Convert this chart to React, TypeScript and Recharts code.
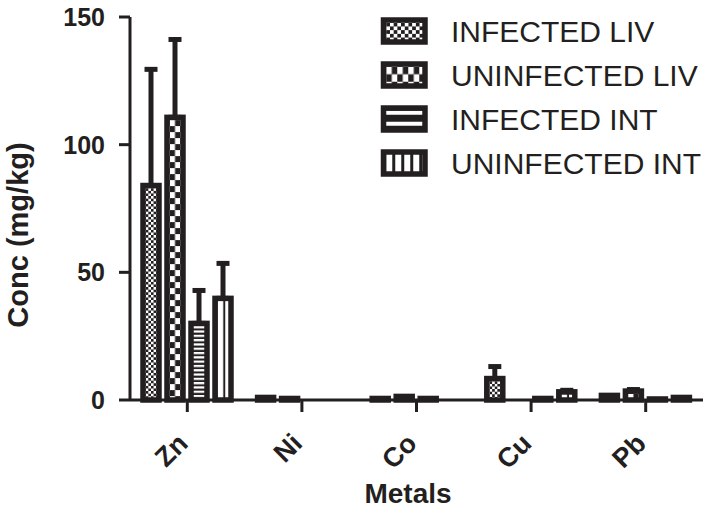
import React from 'react';
import { BarChart, Bar, XAxis, YAxis, ErrorBar, Legend, Label } from 'recharts';

// metal concentrations (mg/kg), mean and SEM per group
const METALS = ['Zn', 'Ni', 'Co', 'Cu', 'Pb'];
const SERIES = ['INFECTED LIV', 'UNINFECTED LIV', 'INFECTED INT', 'UNINFECTED INT'];
const INFECTED_LIV = [84.0, 1.0, 0.6, 8.4, 1.8];
const INFECTED_LIV_ERR = [45.5, 0, 0, 4.7, 0];
const UNINFECTED_LIV = [110.7, 0.6, 1.4, 0, 3.5];
const UNINFECTED_LIV_ERR = [30.5, 0, 0, 0, 0.6];
const INFECTED_INT = [30.0, 0, 0.6, 0.6, 0.4];
const INFECTED_INT_ERR = [12.9, 0, 0, 0, 0];
const UNINFECTED_INT = [39.8, 0, 0, 3.2, 1.0];
const UNINFECTED_INT_ERR = [13.7, 0, 0, 0.6, 0];
const Y_TICKS = [0, 50, 100, 150];

const INK = '#231f20';
const FONT = '"Liberation Sans", Arial, Helvetica, sans-serif';
const SW = 5.5;

type Kind = 'fine' | 'coarse' | 'hlines' | 'vlines';
const KINDS: Kind[] = ['fine', 'coarse', 'hlines', 'vlines'];

const means = [INFECTED_LIV, UNINFECTED_LIV, INFECTED_INT, UNINFECTED_INT];
const errs = [INFECTED_LIV_ERR, UNINFECTED_LIV_ERR, INFECTED_INT_ERR, UNINFECTED_INT_ERR];

const data = METALS.map((metal, i) => {
  const row: any = { metal };
  means.forEach((m, s) => {
    row[`v${s}`] = m[i];
    row[`e${s}`] = errs[s][i] > 0 ? [0, errs[s][i]] : null;
  });
  return row;
});

// fill patterns, a bit larger in the legend than in the bars
const PatternDef = ({ id, kind, x, y, big }: { id: string; kind: Kind; x: number; y: number; big?: boolean }) => {
  if (kind === 'fine') {
    const s = big ? 3.7 : 2.6;
    return (
      <pattern id={id} x={x} y={y} width={2 * s} height={2 * s} patternUnits="userSpaceOnUse">
        <rect width={2 * s} height={2 * s} fill="#fff" />
        <rect width={s} height={s} fill={INK} />
        <rect x={s} y={s} width={s} height={s} fill={INK} />
      </pattern>
    );
  }
  if (kind === 'coarse') {
    const w = big ? 5.5 : 5.25;
    const h = big ? 7.5 : 6;
    return (
      <pattern id={id} x={x} y={y} width={2 * w} height={2 * h} patternUnits="userSpaceOnUse">
        <rect width={2 * w} height={2 * h} fill={INK} />
        <rect width={w} height={h} fill="#fff" />
        <rect x={w} y={h} width={w} height={h} fill="#fff" />
      </pattern>
    );
  }
  if (kind === 'hlines') {
    const p = big ? 11 : 4.3;
    const white = big ? 4 : 2.2;
    return (
      <pattern id={id} x={x} y={y} width={10} height={p} patternUnits="userSpaceOnUse">
        <rect width={10} height={p} fill={INK} />
        <rect width={10} height={white} fill="#fff" />
      </pattern>
    );
  }
  const p = big ? 9 : 7.5;
  const white = big ? 6 : 5.5;
  return (
    <pattern id={id} x={x} y={y} width={p} height={10} patternUnits="userSpaceOnUse">
      <rect width={p} height={10} fill={INK} />
      <rect width={white} height={10} fill="#fff" />
    </pattern>
  );
};

const makeShape = (kind: Kind) => (props: any) => {
  const { x, y, width, height, index } = props;
  if (!height || height <= 0) return <g />;
  const id = `bar-${kind}-${index}`;
  return (
    <g>
      <defs>
        <PatternDef id={id} kind={kind} x={x + SW / 2} y={y + SW / 2} />
      </defs>
      <rect x={x} y={y} width={width} height={height} fill={`url(#${id})`} stroke={INK} strokeWidth={SW} />
    </g>
  );
};

const XTick = (props: any) => {
  const { x, y, payload } = props;
  const ax = x + 2;
  const ay = y + 31;
  return (
    <text x={ax} y={ay} transform={`rotate(-45, ${ax}, ${ay})`} textAnchor="end"
      fontSize={27} fontWeight="bold" fill={INK} fontFamily={FONT}>
      {payload.value}
    </text>
  );
};

const renderLegend = () => (
  <svg width={330} height={180}>
    {SERIES.map((name, i) => {
      const cy = 17 + i * 44;
      const rx = 5.5;
      const ry = cy - 11;
      const id = `leg-${KINDS[i]}`;
      return (
        <g key={name}>
          <defs>
            <PatternDef id={id} kind={KINDS[i]} x={rx + SW / 2} y={ry + SW / 2} big />
          </defs>
          <rect x={rx} y={ry} width={41.5} height={22} fill={`url(#${id})`} stroke={INK} strokeWidth={SW} />
          <text x={73} y={cy + 10.7} fontSize={30} fill={INK} fontFamily={FONT}>{name}</text>
        </g>
      );
    })}
  </svg>
);

export default function App() {
  return (
    <div style={{ position: 'absolute', left: 0, top: 0, background: '#fff' }}>
      <BarChart width={712} height={512} data={data} barSize={16} barGap={8}
        margin={{ top: 17, right: 9, bottom: 0, left: 0 }}>
        <XAxis dataKey="metal" height={112} tick={<XTick />} tickSize={12}
          axisLine={{ stroke: INK, strokeWidth: 3 }} tickLine={{ stroke: INK, strokeWidth: 3 }}>
          <Label content={() => (
            <text x={408} y={503} textAnchor="middle" fontSize={28} fontWeight="bold" fill={INK} fontFamily={FONT}>
              Metals
            </text>
          )} />
        </XAxis>
        <YAxis width={130} domain={[0, 150]} ticks={Y_TICKS} interval={0} tickSize={11} tickMargin={14}
          tick={{ fontSize: 25, fontWeight: 'bold', fill: INK, fontFamily: FONT }}
          axisLine={{ stroke: INK, strokeWidth: 3 }} tickLine={{ stroke: INK, strokeWidth: 3 }}>
          <Label content={() => (
            <text x={28} y={235} transform="rotate(-90, 28, 235)" textAnchor="middle" fontSize={29}
              fontWeight="bold" fill={INK} fontFamily={FONT}>
              Conc (mg/kg)
            </text>
          )} />
        </YAxis>
        <Legend layout="vertical" align="center" verticalAlign="middle" content={renderLegend}
          wrapperStyle={{ left: 378, top: 14, width: 330, height: 180 }} />
        {SERIES.map((name, s) => (
          <Bar key={name} name={name} dataKey={`v${s}`} shape={makeShape(KINDS[s])} isAnimationActive={false}>
            <ErrorBar dataKey={`e${s}`} direction="y" width={6.5} strokeWidth={5} stroke={INK} />
          </Bar>
        ))}
      </BarChart>
    </div>
  );
}
